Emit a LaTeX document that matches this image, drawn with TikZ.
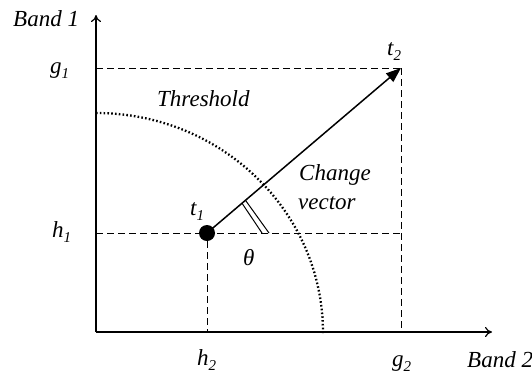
\documentclass[tikz,border=0pt]{standalone}
\usepackage{fontspec}
\setmainfont{Liberation Serif}
\usetikzlibrary{arrows.meta}
\tikzset{
  lbl/.style={anchor=base west, inner sep=0pt, font=\fontsize{23}{26}\selectfont\itshape},
  axis/.style={line width=1.4pt, -{To[length=7pt,width=10pt,line width=1.2pt]}},
  guide/.style={line width=1pt, dash pattern=on 7pt off 4pt},
  thresh/.style={line width=2.3pt, dash pattern=on 1.6pt off 2.2pt},
  vec/.style={line width=1.5pt, -{Triangle[length=15pt,width=11pt]}},
}
\newcommand{\sbx}[1]{\raisebox{-0.25em}{\fontsize{15}{16}\selectfont #1}}
\begin{document}
\begin{tikzpicture}[x=1pt,y=-1pt]
\useasboundingbox (0,0) rectangle (532,376);
\coordinate (O) at (96,332);
\coordinate (Ytop) at (96,15);
\coordinate (Xend) at (492,332);
\coordinate (G1) at (96,68);
\coordinate (H1) at (96,233);
\coordinate (H2) at (207,332);
\coordinate (G2) at (401,332);
\coordinate (T2) at (401,68);
\coordinate (ArcA) at (96,113);
\coordinate (M1a) at (242,203.2);
\coordinate (M1b) at (262,233);
\coordinate (M2a) at (245.5,200.3);
\coordinate (M2b) at (269,233);
% guides
\draw[guide] (G1) -- (T2);
\draw[guide] (T2) -- (G2);
\draw[guide] (H1) -- (401,233);
\node[circle, fill=black, minimum size=16pt, inner sep=0pt] (t1) at (207,233) {};
\draw[guide] (t1) -- (H2);
% threshold
\draw[thresh] (ArcA) arc[start angle=90, end angle=0, x radius=227, y radius=-220];
% axes
\draw[axis] (O) -- (Ytop);
\draw[axis] (O) -- (Xend);
% vector
\draw[vec] (t1.center) -- (T2);
\draw[line width=1pt] (M1a) -- (M1b);
\draw[line width=1pt] (M2a) -- (M2b);
% labels
\node[lbl] (b1) at (13,26) {Band 1};
\node[lbl] (g1) at (50,73) {g\sbx{1}};
\node[lbl] (h1) at (52,237) {h\sbx{1}};
\node[lbl] (th) at (157,106) {Threshold};
\node[lbl] (t2) at (387,55) {t\sbx{2}};
\node[lbl] (t1l) at (190,215) {t\sbx{1}};
\node[lbl] (ch) at (299,180) {Change};
\node[lbl] (ve) at (298,209) {vector};
\node[lbl] (theta) at (243,265) {θ};
\node[lbl] (h2) at (197,365) {h\sbx{2}};
\node[lbl] (g2) at (392,366) {g\sbx{2}};
\node[lbl] (b2) at (467,367) {Band 2};
\end{tikzpicture}
\end{document}
